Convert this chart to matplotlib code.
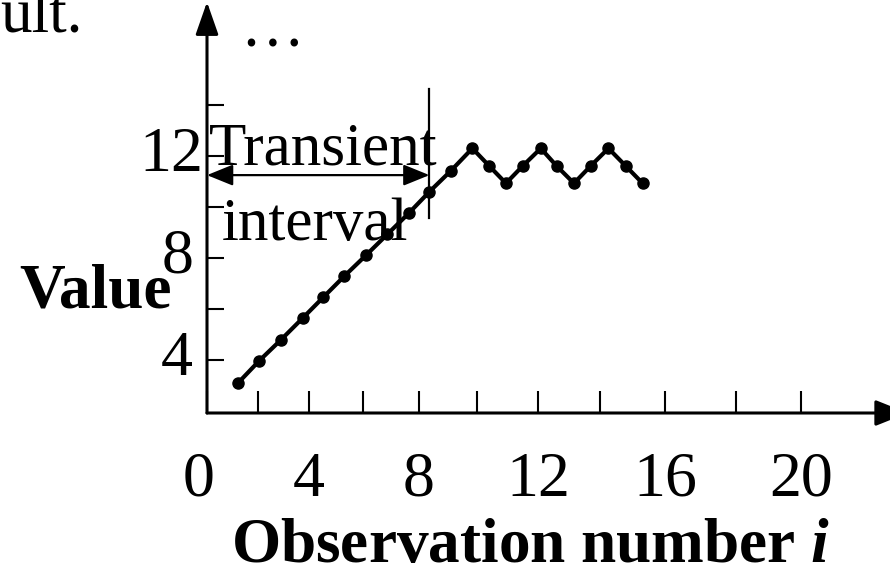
import numpy as np
import matplotlib
matplotlib.use('Agg')
import matplotlib.pyplot as plt
from matplotlib.transforms import ScaledTranslation

# observation number i and value
obs = [1.23, 2.05, 2.89, 3.75, 4.53, 5.31, 6.11, 6.87, 7.63, 8.36, 9.10, 9.84,
       10.40, 10.95, 11.50, 12.09, 12.60, 13.16, 13.70, 14.26, 14.79, 15.31]
value = [3.11, 3.97, 4.78, 5.64, 6.46, 7.29, 8.11, 8.93, 9.75, 10.60, 11.42, 12.30,
         11.61, 10.93, 11.61, 12.30, 11.61, 10.93, 11.61, 12.30, 11.61, 10.93]

x_ticks = [0, 4, 8, 12, 16, 20]
x_minor = [2, 6, 10, 14, 18]
y_ticks = [4, 8, 12]
y_minor = [6, 10, 14]

# end of the transient interval and the marker line around it
transient_end = 8.36
marker_lo, marker_hi = 9.57, 14.63
arrow_y = 11.25

# the axis in the original is hand drawn: tick gaps grow to the right
scale_at = [0, 2, 4, 6, 8, 10, 12, 14, 16, 18, 20, 24]
scale_to = [0, 51, 102, 156, 212, 270, 331, 393, 458, 529, 594, 724]

def fwd(x):
    return np.interp(x, scale_at, scale_to)

def inv(y):
    return np.interp(y, scale_to, scale_at)

plt.rcParams['font.family'] = ['Liberation Serif', 'DejaVu Serif']
plt.rcParams['mathtext.fontset'] = 'custom'
plt.rcParams['mathtext.bfit'] = 'Liberation Serif:italic:bold'
plt.rcParams['mathtext.rm'] = 'Liberation Serif'

fig = plt.figure(figsize=(8.9, 5.65), dpi=100)
ax = fig.add_axes([207/890, 152/565, 683/890, 411/565])

ax.set_xscale('function', functions=(fwd, inv))
ax.set_xlim(0, inv(683))
ax.set_ylim(1.92, 18.04)

ax.plot(obs, value, color='black', lw=3, marker='o', ms=8, clip_on=False, zorder=5)

# transient interval marker
ax.plot([transient_end, transient_end], [marker_lo, marker_hi], color='black', lw=1.6, clip_on=False)
ax.annotate('', xy=(transient_end, arrow_y), xytext=(0, arrow_y),
            arrowprops=dict(arrowstyle='<|-|>,head_length=16,head_width=6.5', mutation_scale=1,
                            lw=1.6, color='black', shrinkA=0, shrinkB=0),
            annotation_clip=False)
ax.text(0.08, 11.65, 'Transient', fontsize=44, va='baseline', ha='left', zorder=6)
ax.text(0.56, 8.71, 'interval', fontsize=44, va='baseline', ha='left', zorder=6)
ax.text(1.29, 16.31, '\u2026', fontsize=46, va='baseline', ha='left')

for s in ax.spines.values():
    s.set_visible(False)

# axes drawn as arrows
ax.annotate('', xy=(1.026, 0), xytext=(0, 0), xycoords='axes fraction',
            arrowprops=dict(arrowstyle='-|>,head_length=20,head_width=8', mutation_scale=1,
                            lw=2.2, color='black', shrinkA=0, shrinkB=0),
            annotation_clip=False)
ax.annotate('', xy=(0, 1), xytext=(0, 0), xycoords='axes fraction',
            arrowprops=dict(arrowstyle='-|>,head_length=20,head_width=7', mutation_scale=1,
                            lw=2.2, color='black', shrinkA=0, shrinkB=0),
            annotation_clip=False)

ax.set_xticks(x_ticks)
ax.set_xticklabels([str(t) for t in x_ticks])
ax.set_xticks(x_minor, minor=True)
ax.set_yticks(y_ticks)
ax.set_yticklabels([str(t) for t in y_ticks])
ax.set_yticks(y_minor, minor=True)
ax.tick_params(axis='x', which='both', direction='in', length=16, width=1.5, pad=28, labelsize=46)
ax.tick_params(axis='y', which='both', direction='in', length=12, width=1.5, pad=10, labelsize=46)

# small nudges of tick labels as in the original
for lab in ax.get_yticklabels():
    dx = 10 if lab.get_text() == '12' else 0
    lab.set_transform(lab.get_transform() + ScaledTranslation(dx/100, 7/100, fig.dpi_scale_trans))
for lab in ax.get_xticklabels():
    if lab.get_text() == '0':
        lab.set_transform(lab.get_transform() + ScaledTranslation(-8/100, 0, fig.dpi_scale_trans))

ax.set_xlabel(r'Observation number $\mathbfit{i}$', fontsize=45.5, fontweight='bold', va='baseline')
ax.xaxis.set_label_coords(531/890, 3/565, transform=fig.transFigure)
ax.set_ylabel('Value', fontsize=45.5, fontweight='bold', rotation=0, va='baseline', ha='center')
ax.yaxis.set_label_coords(96/890, 258/565, transform=fig.transFigure)

fig.text(0, 1 - 31/565, 'ult.', fontsize=45.5, va='baseline', ha='left')

fig.savefig('out.png', dpi=100)
